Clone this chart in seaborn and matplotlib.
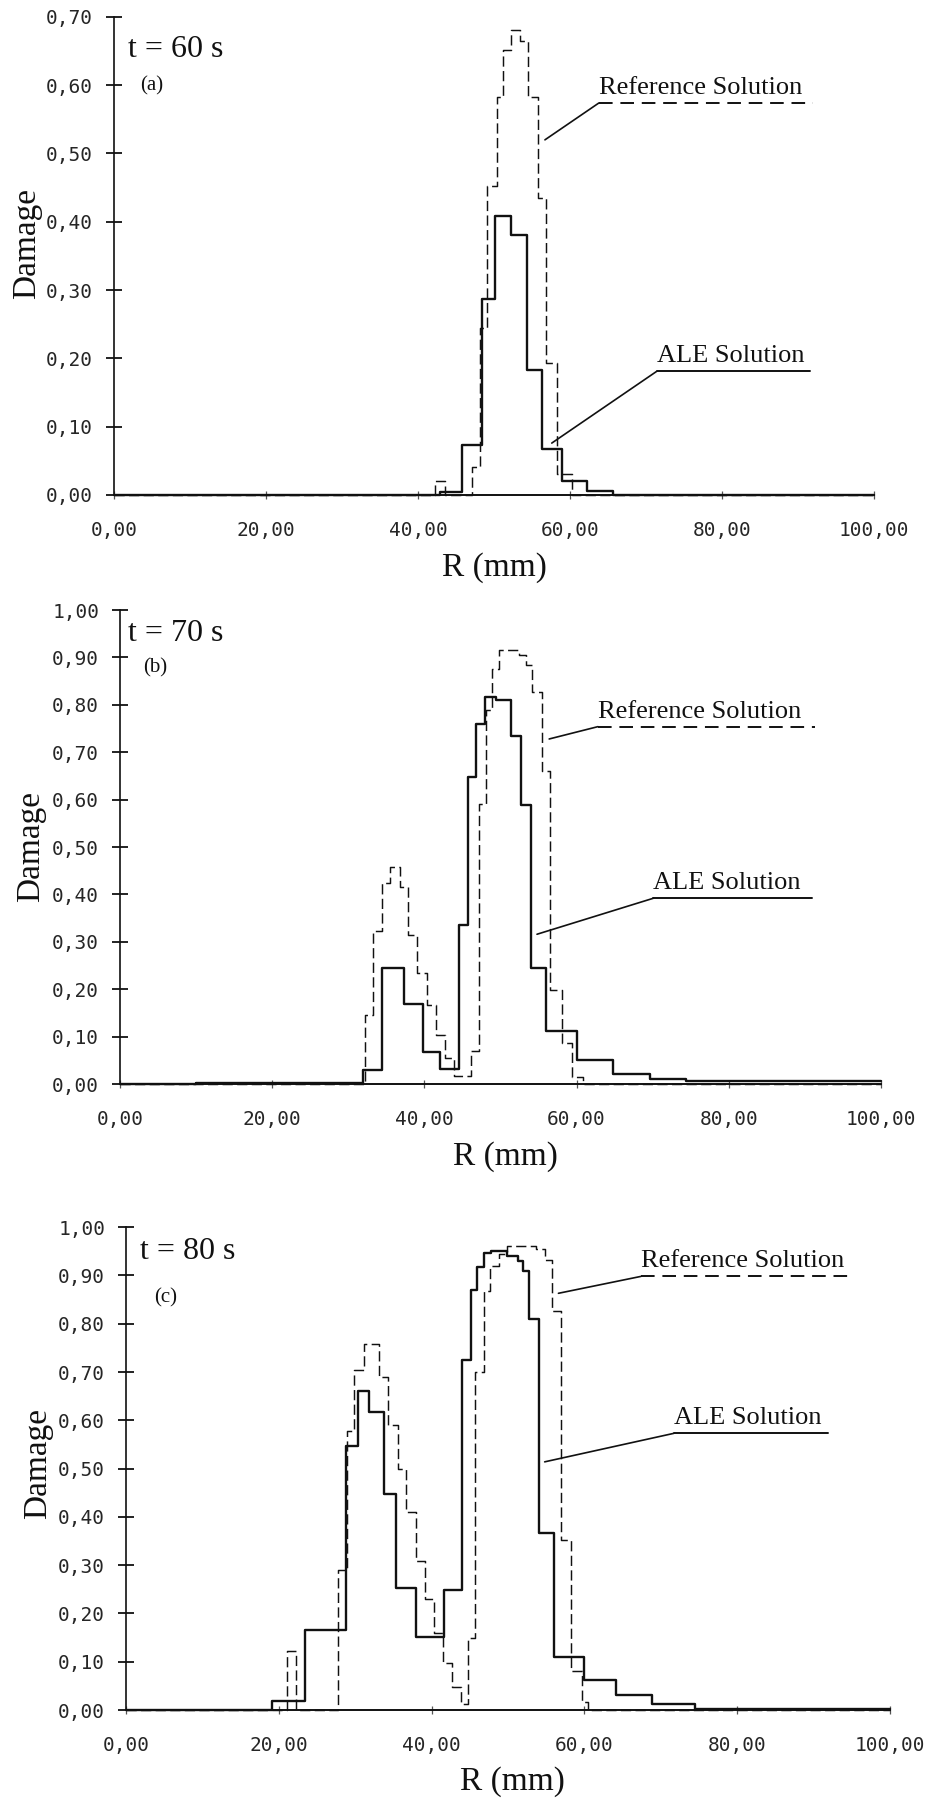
import numpy as np
import pandas as pd
import matplotlib
matplotlib.use("Agg")
import matplotlib.pyplot as plt
import seaborn as sns
from matplotlib.ticker import FuncFormatter

# bin edges R (mm) and damage per bin
r_60_ale = [0, 42.9, 45.75, 48.4, 50.1, 52.2, 54.3, 56.3, 58.9, 62.2, 65.7, 100]
d_60_ale = [0.0, 0.005, 0.073, 0.287, 0.408, 0.38, 0.183, 0.068, 0.021, 0.006, 0.0]
r_60_ref = [0, 42.2, 43.6, 47.1, 48.2, 49.1, 50.4, 51.2, 52.3, 53.4, 54.5, 55.8,
            56.9, 58.3, 60.2, 100]
d_60_ref = [0.0, 0.02, 0.0, 0.041, 0.244, 0.453, 0.582, 0.651, 0.681, 0.664,
            0.582, 0.435, 0.193, 0.031, 0.0]

r_70_ale = [0, 10, 32.0, 34.4, 37.3, 39.8, 42.0, 44.5, 45.7, 46.8, 48.0, 49.4,
            51.4, 52.7, 54.0, 56.0, 60.1, 64.8, 69.7, 74.4, 100]
d_70_ale = [0.0, 0.003, 0.03, 0.245, 0.168, 0.068, 0.032, 0.336, 0.648, 0.76,
            0.816, 0.81, 0.735, 0.588, 0.245, 0.112, 0.05, 0.021, 0.011, 0.006]
r_70_ref = [0, 32.2, 33.2, 34.4, 35.5, 36.8, 37.9, 39.0, 40.3, 41.5, 42.7, 43.9,
            46.1, 47.2, 48.1, 48.9, 49.8, 52.4, 53.3, 54.2, 55.5, 56.5, 58.1,
            59.4, 60.8, 100]
d_70_ref = [0.0, 0.145, 0.323, 0.424, 0.457, 0.415, 0.315, 0.235, 0.166, 0.103,
            0.055, 0.017, 0.07, 0.59, 0.79, 0.875, 0.915, 0.905, 0.885, 0.828,
            0.66, 0.198, 0.087, 0.015, 0.0]

r_80_ale = [0, 19.1, 23.4, 28.8, 30.3, 31.8, 33.8, 35.3, 37.9, 41.6, 44.0, 45.1,
            46.0, 46.9, 47.8, 49.9, 51.3, 51.9, 52.8, 54.1, 56.0, 59.9, 64.1,
            68.9, 74.5, 100]
d_80_ale = [0.0, 0.018, 0.165, 0.547, 0.661, 0.618, 0.447, 0.252, 0.152, 0.248,
            0.725, 0.87, 0.918, 0.946, 0.95, 0.94, 0.93, 0.91, 0.81, 0.366,
            0.11, 0.062, 0.031, 0.012, 0.003]
r_80_ref = [0, 21.1, 22.3, 27.8, 28.9, 29.8, 31.2, 33.1, 34.3, 35.6, 36.7, 37.9,
            39.1, 40.3, 41.5, 42.7, 43.9, 44.8, 45.7, 46.8, 47.7, 48.8, 49.9,
            53.7, 54.8, 55.7, 57.0, 58.3, 59.7, 60.5, 100]
d_80_ref = [0.0, 0.122, 0.0, 0.29, 0.578, 0.705, 0.758, 0.69, 0.59, 0.499, 0.41,
            0.308, 0.23, 0.16, 0.098, 0.047, 0.013, 0.15, 0.70, 0.868, 0.92,
            0.945, 0.96, 0.955, 0.932, 0.826, 0.352, 0.08, 0.017, 0.0]

times = ["t = 60 s", "t = 70 s", "t = 80 s"]
tags = ["(a)", "(b)", "(c)"]
y_tops = [0.70, 1.00, 1.00]
x_ticks = [0, 20, 40, 60, 80, 100]


def steps(edges, vals, name):
    return pd.DataFrame({"R": edges, "D": list(vals) + [vals[-1]], "sol": name})


sns.set_style("ticks")
plt.rcParams["font.family"] = ["Liberation Serif", "DejaVu Serif"]

fig = plt.figure(figsize=(9.3, 17.98), dpi=100)

# axes boxes in figure fractions
boxes = [[0.1226, 0.7247, 0.8172, 0.2659],
         [0.1290, 0.3971, 0.8183, 0.2636],
         [0.1355, 0.0489, 0.8215, 0.2686]]

series = [(r_60_ale, d_60_ale, r_60_ref, d_60_ref),
          (r_70_ale, d_70_ale, r_70_ref, d_70_ref),
          (r_80_ale, d_80_ale, r_80_ref, d_80_ref)]

# annotation placement: (text x, underline y, underline end x, leader tip x, leader tip y)
ref_notes = [(63.8, 0.574, 92.0, 56.7, 0.52),
             (62.8, 0.754, 91.3, 56.4, 0.728),
             (67.4, 0.898, 95.1, 56.6, 0.863)]
ale_notes = [(71.4, 0.181, 91.6, 57.6, 0.076),
             (70.1, 0.392, 91.0, 54.8, 0.316),
             (71.7, 0.573, 91.9, 54.8, 0.514)]

ylab_pos = [(-0.1145, 0.525), (-0.117, 0.502), (-0.115, 0.51)]
xlab_pos = [(0.50, -0.151), (0.506, -0.154), (0.506, -0.149)]
title_pos = [(0.1376, 0.9722, 0.1505, 0.9522),
             (0.1376, 0.6479, 0.1538, 0.6285),
             (0.1505, 0.3042, 0.1656, 0.2780)]

fmt = FuncFormatter(lambda v, p: f"{v:.2f}".replace(".", ","))
ink = "#111111"

for i in range(3):
    ax = fig.add_axes(boxes[i])
    ra, da, rr, dr = series[i]
    df = pd.concat([steps(ra, da, "ALE"), steps(rr, dr, "Reference")])
    sns.lineplot(data=df, x="R", y="D", style="sol", size="sol",
                 dashes={"ALE": "", "Reference": (7, 3)},
                 sizes={"ALE": 1.7, "Reference": 1.05},
                 color=ink, drawstyle="steps-post", estimator=None, sort=False,
                 legend=False, ax=ax)
    for ln in ax.lines:
        ln.set_clip_on(False)

    ax.set_xlim(0, 100)
    ax.set_ylim(0, y_tops[i])
    ax.set_xticks(x_ticks)
    ax.set_yticks(np.round(np.arange(0, y_tops[i] + 0.001, 0.1), 2))
    ax.xaxis.set_major_formatter(fmt)
    ax.yaxis.set_major_formatter(fmt)
    ax.tick_params(axis="y", direction="inout", length=12, width=1.3,
                   pad=9, labelsize=14, labelcolor="#262626",
                   labelfontfamily="DejaVu Sans Mono", color=ink)
    ax.tick_params(axis="x", direction="inout", length=6, width=0.9,
                   pad=15.5, labelsize=14, labelcolor="#262626",
                   labelfontfamily="DejaVu Sans Mono", color="#555555")
    sns.despine(ax=ax)
    ax.spines["left"].set_linewidth(1.2)
    ax.spines["bottom"].set_linewidth(1.4)
    ax.spines["left"].set_color(ink)
    ax.spines["bottom"].set_color(ink)

    ax.set_ylabel("Damage", fontsize=24, color=ink)
    ax.yaxis.label.set_verticalalignment("center")
    ax.yaxis.set_label_coords(*ylab_pos[i])
    ax.set_xlabel("R (mm)", fontsize=24, color=ink)
    ax.xaxis.label.set_verticalalignment("center")
    ax.xaxis.set_label_coords(*xlab_pos[i])

    tx, ty, gx, gy = title_pos[i]
    fig.text(tx, ty, times[i], fontsize=23, va="center", ha="left", color=ink)
    fig.text(gx, gy, tags[i], fontsize=15, va="center", ha="left", color=ink)

    # labels with underline and leader line
    px = 9 / (boxes[i][3] * 1798) * y_tops[i]
    x0, yu, x1, lx, ly = ref_notes[i]
    ax.text(x0, yu + px, "Reference Solution", fontsize=19, ha="left",
            va="baseline", color=ink)
    ax.plot([x0, x1], [yu, yu], color=ink, lw=1.4, ls=(0, (7, 4)), clip_on=False)
    ax.plot([lx, x0], [ly, yu], color=ink, lw=1.2, clip_on=False)
    x0, yu, x1, lx, ly = ale_notes[i]
    ax.text(x0, yu + px, "ALE Solution", fontsize=19, ha="left",
            va="baseline", color=ink)
    ax.plot([x0, x1], [yu, yu], color=ink, lw=1.4, clip_on=False)
    ax.plot([lx, x0], [ly, yu], color=ink, lw=1.2, clip_on=False)

fig.savefig("out.png", dpi=100, facecolor="white")
